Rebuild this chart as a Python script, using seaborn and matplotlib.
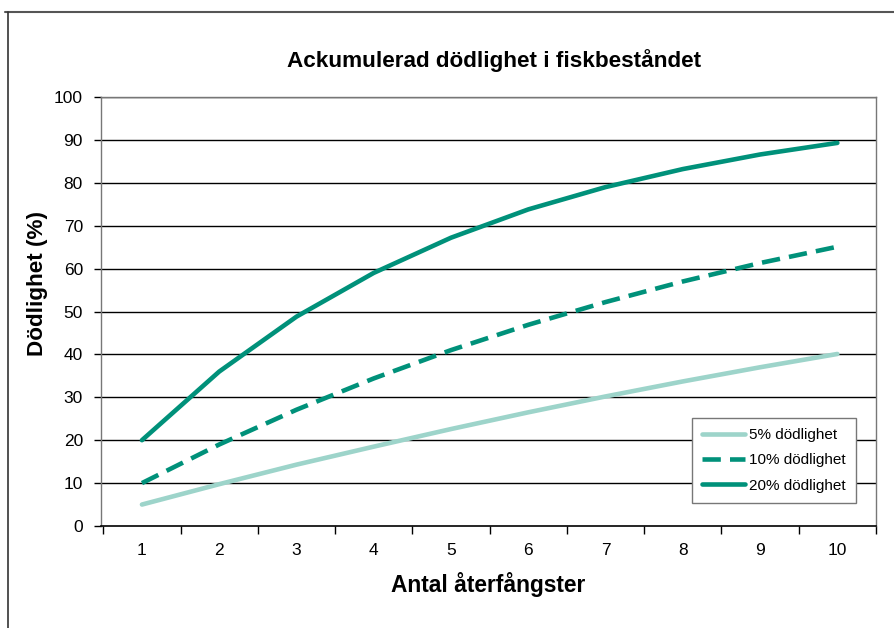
import matplotlib
matplotlib.use("Agg")
import matplotlib.pyplot as plt
import matplotlib.lines as mlines
import seaborn as sns
import pandas as pd

# Number of recaptures and cumulative mortality (%) per per-capture mortality rate
recaptures = [1, 2, 3, 4, 5, 6, 7, 8, 9, 10]
mort_5 = [5.0, 9.75, 14.3, 18.5, 22.6, 26.5, 30.2, 33.7, 37.0, 40.1]
mort_10 = [10.0, 19.0, 27.1, 34.4, 41.0, 46.9, 52.2, 57.0, 61.3, 65.1]
mort_20 = [20.0, 36.0, 48.8, 59.0, 67.2, 73.8, 79.0, 83.2, 86.6, 89.3]
series_names = ["5% dödlighet", "10% dödlighet", "20% dödlighet"]
y_ticks = [0, 10, 20, 30, 40, 50, 60, 70, 80, 90, 100]

df = pd.DataFrame({
    "n": recaptures * 3,
    "value": mort_5 + mort_10 + mort_20,
    "serie": [series_names[0]] * 10 + [series_names[1]] * 10 + [series_names[2]] * 10,
})

sns.set_theme(style="white")
plt.rcParams["font.family"] = ["Liberation Sans", "DejaVu Sans"]
plt.rcParams["text.color"] = "black"
plt.rcParams["axes.labelcolor"] = "black"

LIGHT = "#9dd4ca"
DARK = "#00917a"
LW = 3.3

fig = plt.figure(figsize=(8.95, 6.28), dpi=100)
ax = fig.add_axes([101 / 895, 1 - 526 / 628, (876 - 101) / 895, (526 - 97) / 628])

palette = {series_names[0]: LIGHT, series_names[1]: DARK, series_names[2]: DARK}
sns.lineplot(data=df, x="n", y="value", hue="serie", style="serie",
             palette=palette,
             dashes={series_names[0]: "", series_names[1]: (4, 2), series_names[2]: ""},
             linewidth=LW, ax=ax, legend=False, zorder=3)

ax.set_xlim(0.47, 10.47)
ax.set_ylim(0, 100)
ax.set_yticks(y_ticks)
ax.set_yticklabels([str(v) for v in y_ticks], fontsize=12.5, color="black")
ax.set_xticks(recaptures)
ax.set_xticklabels([str(v) for v in recaptures], fontsize=12.5, color="black")
ax.set_xticks([v - 0.5 for v in recaptures] + [10.5], minor=True)
ax.tick_params(axis="x", which="major", length=0, pad=12)
ax.tick_params(axis="x", which="minor", length=6, width=1, color="black", direction="out", bottom=True)
ax.tick_params(axis="y", length=5, width=1, color="black", direction="out", left=True, pad=8)

for v in y_ticks[1:]:
    ax.axhline(v, color="black", linewidth=1.0, zorder=1)

for side in ["left", "right", "top"]:
    ax.spines[side].set_color("#777777")
    ax.spines[side].set_linewidth(1.0)
ax.spines["bottom"].set_color("black")
ax.spines["bottom"].set_linewidth(1.2)

ax.set_xlabel("Antal återfångster", fontsize=16.4, fontweight="bold", labelpad=10, color="black")
ax.set_ylabel("")
fig.text(38 / 895, 1 - 284 / 628, "Dödlighet (%)", fontsize=16.2, fontweight="bold",
         rotation=90, ha="center", va="center", color="black")
fig.text(494 / 895, 1 - 61 / 628, "Ackumulerad dödlighet i fiskbeståndet",
         fontsize=16.2, fontweight="bold", ha="center", va="center", color="black")

handles = [
    mlines.Line2D([], [], color=LIGHT, linewidth=LW),
    mlines.Line2D([], [], color=DARK, linewidth=LW, dashes=(4, 2)),
    mlines.Line2D([], [], color=DARK, linewidth=LW),
]
leg = ax.legend(handles, series_names, loc="upper left",
                bbox_to_anchor=((692 - 101) / 775, (526 - 418) / 429),
                fontsize=11, frameon=True, fancybox=False, framealpha=1,
                edgecolor="#777777", handlelength=2.8, borderpad=0.65, labelspacing=0.75,
                handletextpad=0.3, borderaxespad=0)
leg.get_frame().set_linewidth(1.0)
leg.set_zorder(5)
for t in leg.get_texts():
    t.set_color("black")

# Outer frame lines along the top and left edges
fig.add_artist(mlines.Line2D([5 / 895, 1], [1 - 12 / 628, 1 - 12 / 628], color="#555555", linewidth=1.5))
fig.add_artist(mlines.Line2D([8 / 895, 8 / 895], [1 - 12 / 628, 0], color="#333333", linewidth=1.2))

fig.savefig("out.png", dpi=100)
